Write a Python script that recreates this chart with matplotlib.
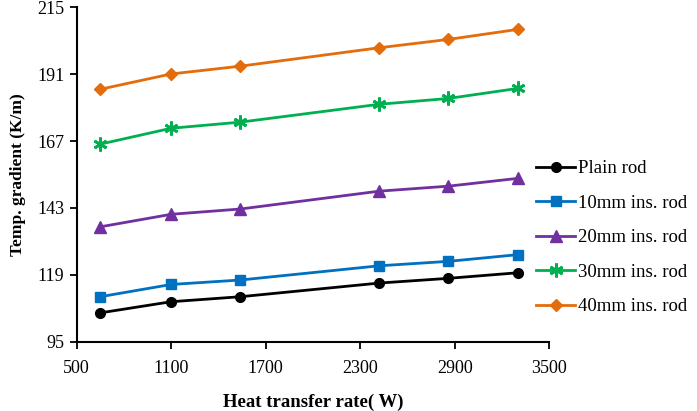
import numpy as np
import matplotlib.pyplot as plt

# data
heat_rate = [650, 1100, 1540, 2420, 2860, 3300]
plain_rod = [105.3, 109.3, 111.1, 116.0, 117.7, 119.7]
ins_10mm = [111.1, 115.5, 117.1, 122.2, 123.8, 126.2]
ins_20mm = [136.2, 140.7, 142.6, 149.0, 150.8, 153.6]
ins_30mm = [165.9, 171.6, 173.8, 180.2, 182.3, 185.9]
ins_40mm = [185.6, 191.1, 193.9, 200.5, 203.5, 207.1]

series_names = ['Plain rod', '10mm ins. rod', '20mm ins. rod',
                '30mm ins. rod', '40mm ins. rod']
x_ticks = [500, 1100, 1700, 2300, 2900, 3500]
y_ticks = [95, 119, 143, 167, 191, 215]

plt.rcParams['font.family'] = ['Liberation Serif', 'DejaVu Serif']

fig = plt.figure(figsize=(6.97, 4.11), dpi=100)
ax = fig.add_axes([0.110, 0.169, 0.678, 0.813])

series = [plain_rod, ins_10mm, ins_20mm, ins_30mm, ins_40mm]
colors = ['black', '#0070C0', '#7030A0', '#00B050', '#E46C0A']
markers = ['o', 's', '^', (6, 2, 0), 'D']
sizes = [7, 7, 8, 10, 6.5]

for vals, name, c, m, s in zip(series, series_names, colors, markers, sizes):
    ax.plot(heat_rate, vals, color=c, marker=m, markersize=s, lw=2,
            markeredgewidth=2 if m == (6, 2, 0) else 1,
            markeredgecolor=c, label=name)

ax.set_xlim(500, 3500)
ax.set_ylim(95, 215)
ax.set_xticks(x_ticks)
ax.set_yticks(y_ticks)
ax.tick_params(direction='out', length=5, width=1.3, labelsize=13)
ax.tick_params(axis='x', pad=8)
ax.tick_params(axis='y', pad=4)
for side in ['top', 'right']:
    ax.spines[side].set_visible(False)
for side in ['left', 'bottom']:
    ax.spines[side].set_linewidth(1.5)

ax.set_xlabel('Heat transfer rate( W)', fontsize=13.5, fontweight='bold', labelpad=12)
ax.set_ylabel('Temp. gradient (K/m)', fontsize=12.5, fontweight='bold', labelpad=8)

fig.legend(loc='upper left', bbox_to_anchor=(536 / 697, 1 - 160 / 411),
           frameon=False, fontsize=13.5, handlelength=2.1, handletextpad=0.15,
           labelspacing=0.93, borderpad=0, borderaxespad=0)

fig.savefig('out.png', dpi=100)
